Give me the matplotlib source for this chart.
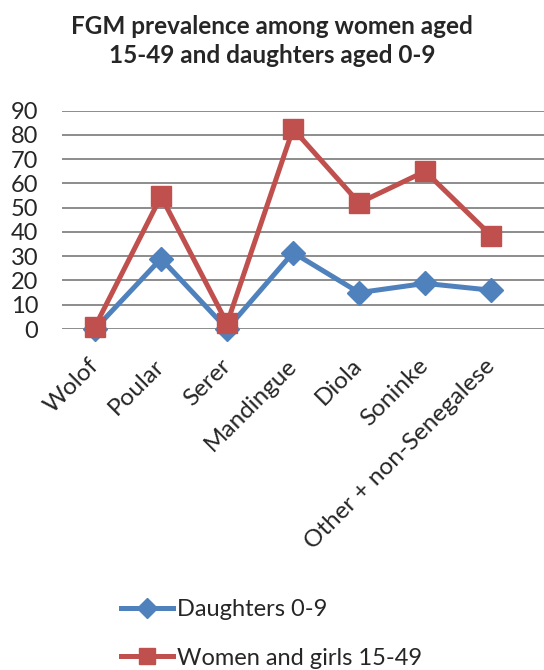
import matplotlib
matplotlib.use("Agg")
import matplotlib.pyplot as plt

plt.rcParams['font.family'] = ['Lato', 'DejaVu Sans']

groups = ['Wolof', 'Poular', 'Serer', 'Mandingue', 'Diola', 'Soninke',
          'Other + non-Senegalese']
daughters = [0, 29, 0, 31.5, 15, 18.8, 16]
women = [1, 54.7, 2.3, 82.5, 52, 65, 38.5]
yticks = [0, 10, 20, 30, 40, 50, 60, 70, 80, 90]

blue = '#4F81BD'
red = '#C0504D'
text_col = '#262626'

fig = plt.figure(figsize=(5.44, 6.70), dpi=100)
ax = fig.add_axes([62 / 544, 341 / 670, 482 / 544, 218.3 / 670])

x = list(range(len(groups)))
l1, = ax.plot(x, daughters, color=blue, lw=3.6, marker='D', markersize=12,
              label='Daughters 0-9', clip_on=False, zorder=3)
l2, = ax.plot(x, women, color=red, lw=3.6, marker='s', markersize=14,
              label='Women and girls 15-49', clip_on=False, zorder=4)

ax.set_xlim(-0.5, 6.8)
ax.set_ylim(0, 90)
ax.set_yticks(yticks)
ax.yaxis.grid(True, color='#8C8C8C', lw=1.4)
ax.set_axisbelow(True)
for s in ax.spines.values():
    s.set_visible(False)
ax.tick_params(axis='both', length=0, colors=text_col)
ax.tick_params(axis='y', pad=17, labelsize=17)
ax.set_xticks(x)
ax.set_xticklabels(groups, rotation=45, ha='right', va='center',
                   rotation_mode='anchor', fontsize=17.5)
ax.tick_params(axis='x', pad=24)

fig.text(0.5, 1 - 41 / 670, 'FGM prevalence among women aged\n15-49 and daughters aged 0-9',
         ha='center', va='center', fontsize=17.5, fontweight='bold',
         color=text_col, linespacing=1.3)

fig.legend(handles=[l1, l2], loc='upper left', bbox_to_anchor=(112 / 544, 1 - 590 / 670),
           frameon=False, fontsize=17, labelspacing=1.15, handlelength=2.2,
           handletextpad=0.15, labelcolor=text_col, borderaxespad=0,
           markerscale=0.85)

fig.savefig('out.png', dpi=100)
